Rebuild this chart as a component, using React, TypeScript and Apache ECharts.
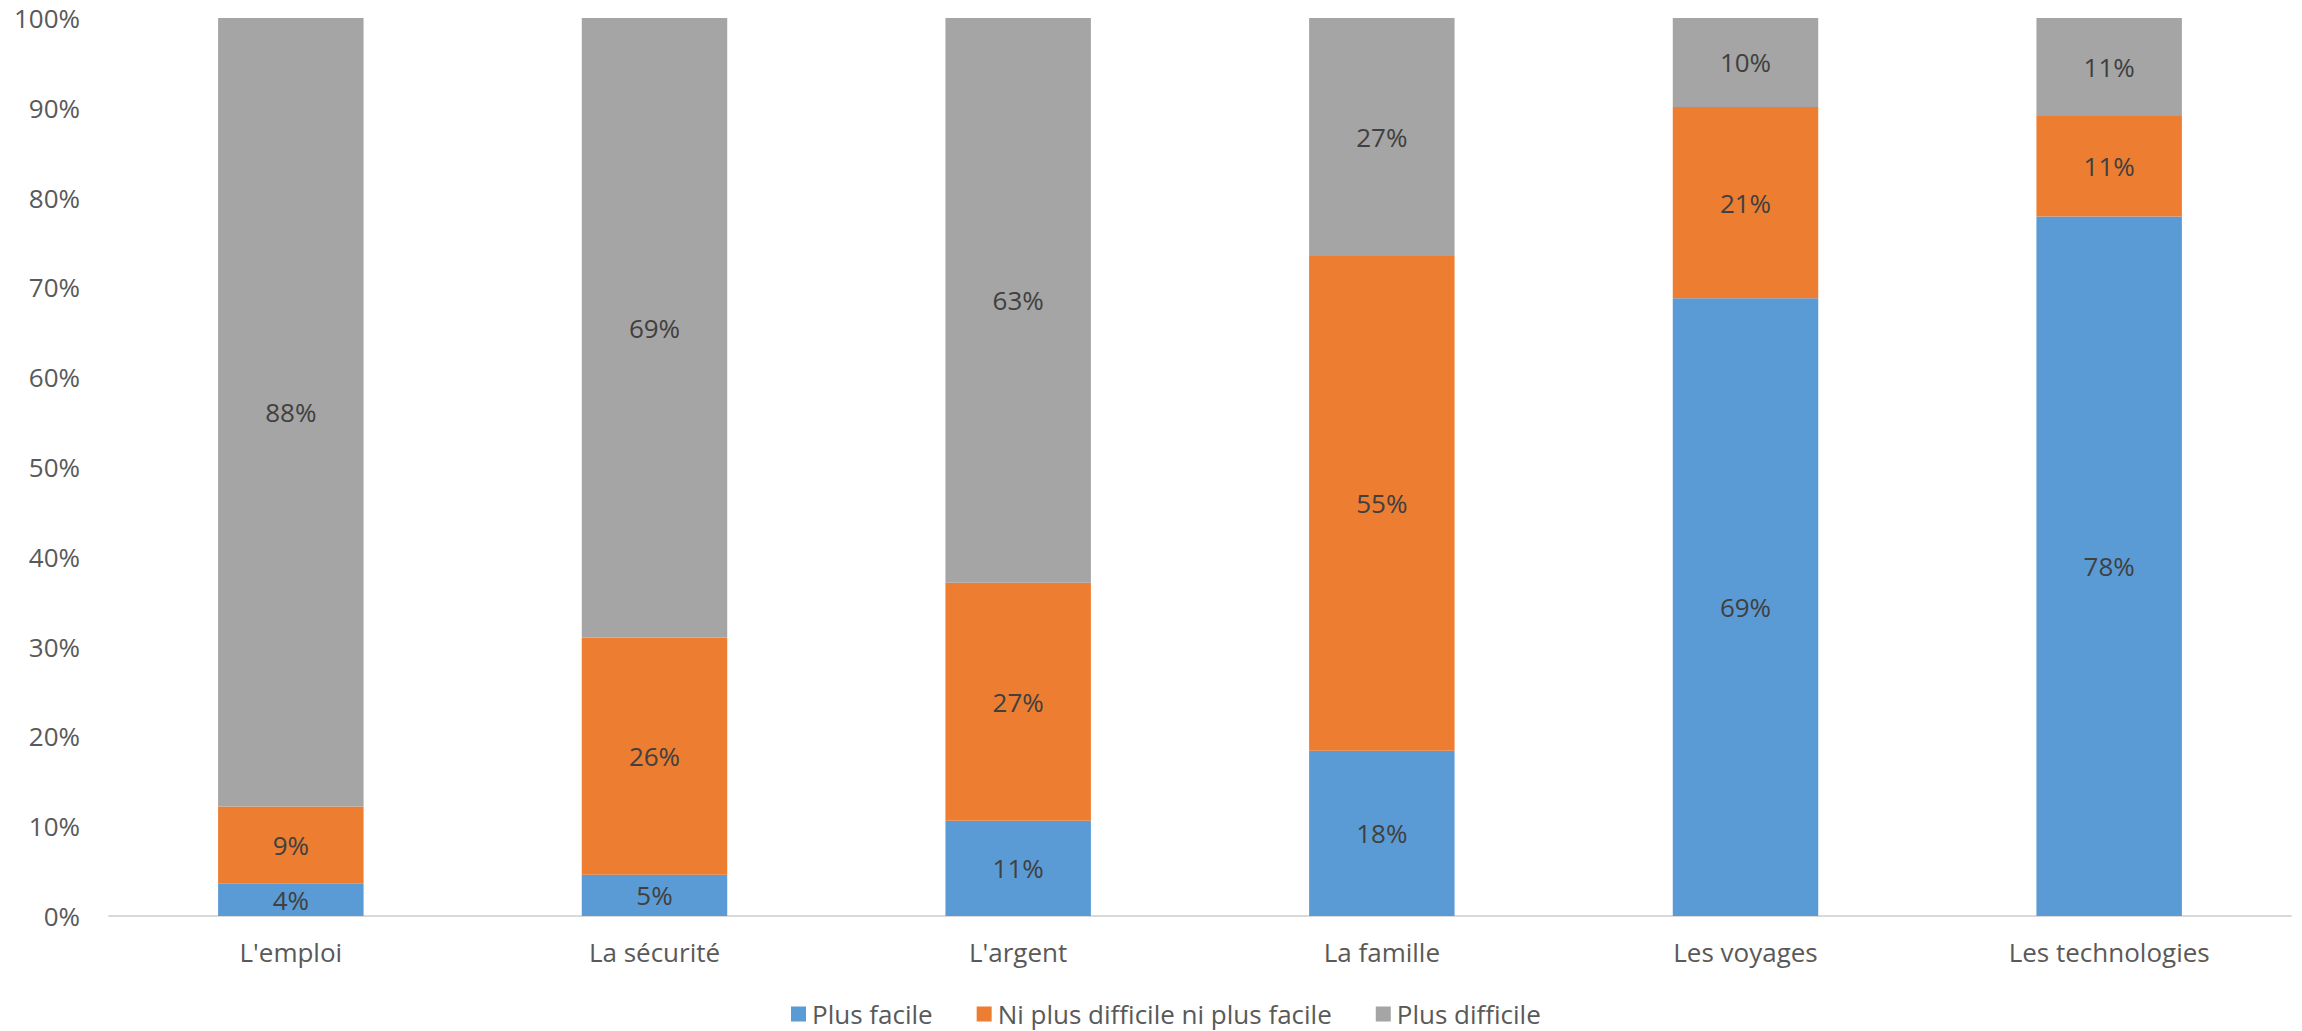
import React, { useEffect, useRef } from "react";
import * as echarts from "echarts";

const categories = ["L'emploi", "La sécurité", "L'argent", "La famille", "Les voyages", "Les technologies"];
const seriesNames = ["Plus facile", "Ni plus difficile ni plus facile", "Plus difficile"];
const plusFacile = [3.6, 4.6, 10.6, 18.4, 68.8, 77.9];
const niNi = [8.6, 26.4, 26.5, 55.1, 21.3, 11.2];
const plusDifficile = [87.8, 69.0, 62.9, 26.5, 9.9, 10.9];
const colors = ["#5B9BD5", "#ED7D31", "#A5A5A5"];

const FONT = "Open Sans";

export default function App() {
  const ref = useRef<HTMLDivElement>(null);
  useEffect(() => {
    if (!ref.current) return;
    const chart = echarts.init(ref.current, null, { renderer: "svg" });
    const values = [plusFacile, niNi, plusDifficile];
    chart.setOption({
      animation: false,
      backgroundColor: "#ffffff",
      textStyle: { fontFamily: FONT },
      grid: { left: 109, right: 11, top: 18, bottom: 115, containLabel: false },
      legend: {
        left: 786,
        top: 996,
        itemWidth: 15,
        itemHeight: 15,
        itemGap: 44,
        icon: "rect",
        textStyle: { fontFamily: FONT, fontSize: 26, color: "#595959", padding: [0, 0, 0, 1] },
        data: seriesNames,
      },
      xAxis: {
        type: "category",
        data: categories,
        axisLine: { show: true, lineStyle: { color: "#D9D9D9", width: 2 } },
        axisTick: { show: false },
        axisLabel: { fontFamily: FONT, fontSize: 26, color: "#595959", margin: 23 },
      },
      yAxis: {
        type: "value",
        min: 0,
        max: 100,
        interval: 10,
        axisLine: { show: false },
        axisTick: { show: false },
        splitLine: { show: false },
        axisLabel: { fontFamily: FONT, fontSize: 26, color: "#595959", margin: 29, formatter: "{value}%" },
      },
      series: seriesNames.map((name, i) => ({
        name,
        type: "bar",
        stack: "total",
        barWidth: "40%",
        data: values[i],
        itemStyle: { color: colors[i] },
        label: {
          show: true,
          position: "inside",
          fontFamily: FONT,
          fontSize: 26,
          color: "#404040",
          formatter: (p: any) => Math.round(p.value) + "%",
        },
      })),
    });
    return () => chart.dispose();
  }, []);
  return (
    <div
      ref={ref}
      style={{ position: "fixed", left: 0, top: 0, width: 2302, height: 1031, background: "#fff" }}
    />
  );
}
